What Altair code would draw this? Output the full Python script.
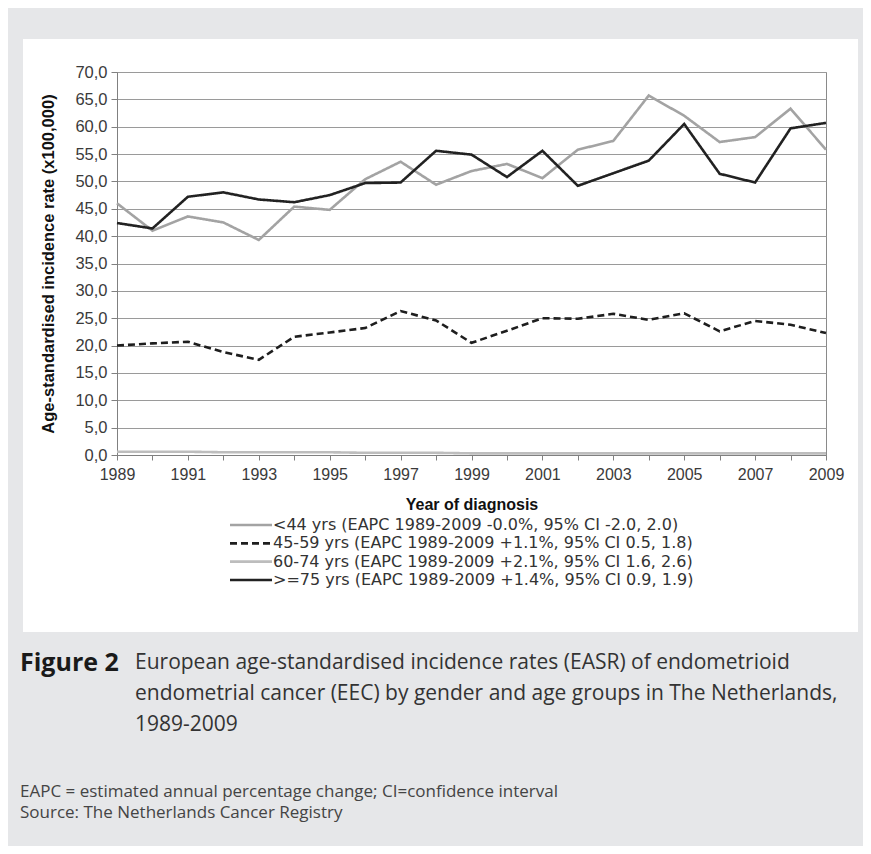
import altair as alt
import pandas as pd

years = list(range(1989, 2010))
lt44 = [46.0, 41.0, 43.6, 42.5, 39.3, 45.4, 44.8, 50.4, 53.6, 49.4, 51.9,
        53.2, 50.6, 55.8, 57.4, 65.7, 62.0, 57.2, 58.1, 63.3, 55.8]
a45_59 = [20.0, 20.4, 20.7, 18.8, 17.4, 21.6, 22.4, 23.2, 26.3, 24.6, 20.5,
          22.7, 25.0, 24.9, 25.8, 24.7, 25.9, 22.6, 24.5, 23.8, 22.3]
a60_74 = [0.6, 0.6, 0.6, 0.5, 0.5, 0.5, 0.5, 0.4, 0.4, 0.4, 0.3,
          0.3, 0.3, 0.3, 0.3, 0.3, 0.3, 0.3, 0.3, 0.3, 0.3]
ge75 = [42.4, 41.4, 47.2, 48.0, 46.7, 46.2, 47.5, 49.7, 49.8, 55.6, 54.9,
        50.8, 55.6, 49.2, 51.5, 53.8, 60.5, 51.4, 49.8, 59.7, 60.7]

series_labels = [
    "<44 yrs (EAPC 1989-2009 -0.0%, 95% CI -2.0, 2.0)",
    "45-59 yrs (EAPC 1989-2009 +1.1%, 95% CI 0.5, 1.8)",
    "60-74 yrs (EAPC 1989-2009 +2.1%, 95% CI 1.6, 2.6)",
    ">=75 yrs (EAPC 1989-2009 +1.4%, 95% CI 0.9, 1.9)",
]
series_values = [lt44, a45_59, a60_74, ge75]
series_colors = ["#a3a3a3", "#1e1e1e", "#bdbdbd", "#222222"]
series_dash = [[1, 0], [7, 4], [1, 0], [1, 0]]

caption_bold = "Figure 2"
caption_lines = [
    "European age-standardised incidence rates (EASR) of endometrioid",
    "endometrial cancer (EEC) by gender and age groups in The Netherlands,",
    "1989-2009",
]
footnotes = [
    "EAPC = estimated annual percentage change; CI=confidence interval",
    "Source: The Netherlands Cancer Registry",
]

rows = []
for lab, vals in zip(series_labels, series_values):
    for yr, v in zip(years, vals):
        rows.append({"year": yr, "rate": v, "series": lab})
df = pd.DataFrame(rows)
legend_df = pd.DataFrame({"series": series_labels})

FONT = "Liberation Sans"
LEG_FONT = "DejaVu Sans"
CAP_FONT = "Open Sans"
GREY = "#e6e7e9"

color_scale = alt.Scale(domain=series_labels, range=series_colors)
dash_scale = alt.Scale(domain=series_labels, range=series_dash)


def grey_rect(x, x2, y, y2):
    return alt.Chart(alt.Data(values=[{}])).mark_rect(color=GREY).encode(
        x=alt.value(x), x2=alt.value(x2), y=alt.value(y), y2=alt.value(y2)
    )


frame = [
    grey_rect(-109, 746, -64, -33),
    grey_rect(-109, -94, -33, 560),
    grey_rect(741, 746, -33, 560),
    grey_rect(-109, 746, 560, 774),
]

lines = alt.Chart(df).mark_line(strokeWidth=2.6).encode(
    x=alt.X("year:Q",
            scale=alt.Scale(domain=[1989, 2009], nice=False, zero=False),
            axis=alt.Axis(values=years, labelExpr="datum.value % 2 == 1 ? datum.value : ''",
                          labelFlush=False, labelOverlap=False,
                          title="Year of diagnosis", grid=False, tickSize=5,
                          tickColor="#808080", domainColor="#808080",
                          labelFont=FONT, labelFontSize=16, labelColor="#3a3a3a",
                          labelPadding=6, titleFont=FONT, titleFontSize=16,
                          titleFontWeight="bold", titleColor="#111111", titlePadding=14)),
    y=alt.Y("rate:Q",
            scale=alt.Scale(domain=[0, 70], nice=False),
            axis=alt.Axis(values=list(range(0, 75, 5)),
                          labelExpr="replace(format(datum.value, '.1f'), '.', ',')",
                          labelFlush=False,
                          title="Age-standardised incidence rate (x100,000)",
                          grid=True, gridColor="#9a9a9a", gridWidth=1,
                          tickSize=6, tickColor="#808080", domainColor="#808080",
                          labelFont=FONT, labelFontSize=16.5, labelColor="#3a3a3a",
                          labelPadding=4, titleFont=FONT, titleFontSize=16.5,
                          titleFontWeight="bold", titleColor="#111111", titlePadding=18)),
    color=alt.Color("series:N", scale=color_scale, legend=None),
    strokeDash=alt.StrokeDash("series:N", scale=dash_scale, legend=None),
    order=alt.Order("series:N"),
)

leg_y = alt.Y("series:N", scale=alt.Scale(type="point", domain=series_labels,
                                           range=[453, 508], padding=0), axis=None)
legend_sym = alt.Chart(legend_df).mark_rule(strokeWidth=2.6).encode(
    x=alt.value(113), x2=alt.value(155), y=leg_y,
    color=alt.Color("series:N", scale=color_scale, legend=None),
    strokeDash=alt.StrokeDash("series:N", scale=dash_scale, legend=None),
)
legend_txt = alt.Chart(legend_df).mark_text(
    align="left", baseline="middle", font=LEG_FONT, fontSize=16, color="#333333"
).encode(x=alt.value(156), y=leg_y, text="series:N")


def txt(s, x, y, size, weight="normal", color="#333333", font=CAP_FONT):
    return alt.Chart(alt.Data(values=[{}])).mark_text(
        text=s, align="left", baseline="middle", font=font, fontSize=size,
        fontWeight=weight, color=color
    ).encode(x=alt.value(x), y=alt.value(y))


caps = [txt(caption_bold, -97, 591, 25, "bold", "#1a1a1a")]
for i, line in enumerate(caption_lines):
    caps.append(txt(line, 18, 591 + 31 * i, 21, "normal", "#333333"))
for i, line in enumerate(footnotes):
    caps.append(txt(line, -97, 720 + 21 * i, 17, "normal", "#444444"))

chart = alt.layer(lines, legend_sym, legend_txt, *frame, *caps).resolve_scale(
    y="independent"
).properties(
    width=709, height=383,
    padding={"left": 109, "top": 64, "right": 37, "bottom": 391},
    autosize="none",
    background="white",
).configure_view(stroke="#8a8a8a", strokeWidth=1)

chart.save("out.html", embed_options={"renderer": "svg", "actions": False})
